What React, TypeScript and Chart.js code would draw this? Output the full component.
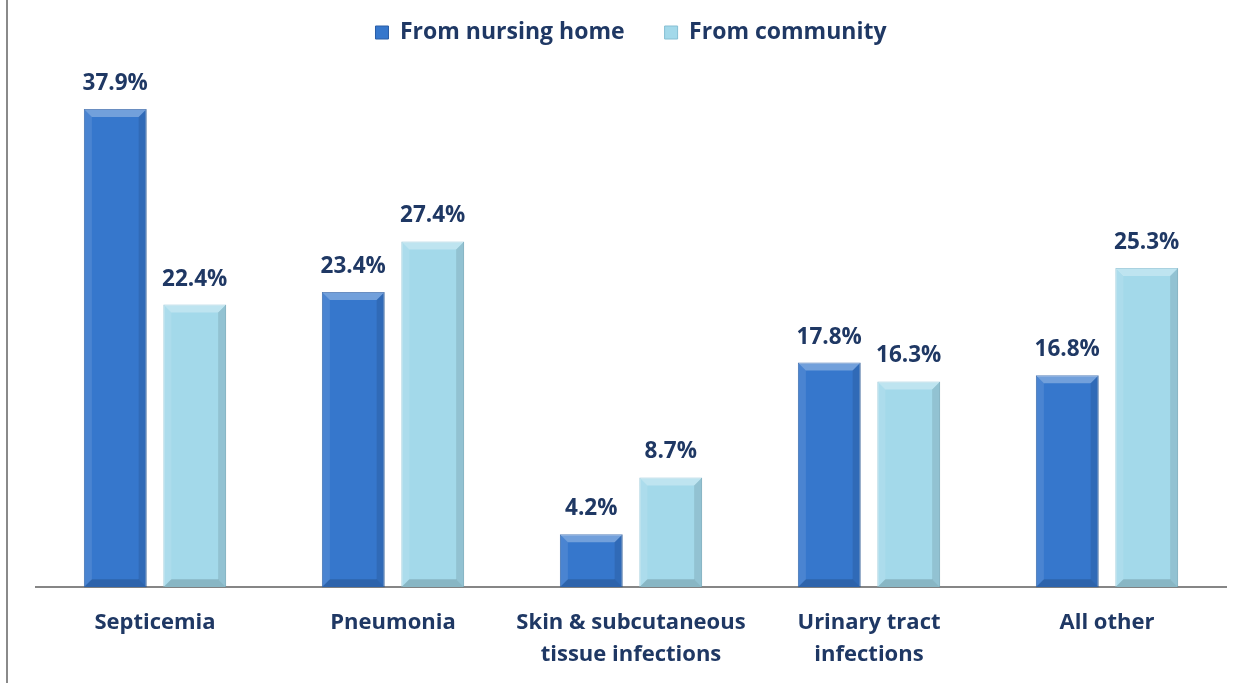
import React, { useEffect, useRef } from "react";
import { Chart, registerables } from "chart.js";

Chart.register(...registerables);

const categories: string[][] = [
  ["Septicemia"],
  ["Pneumonia"],
  ["Skin & subcutaneous", "tissue infections"],
  ["Urinary tract", "infections"],
  ["All other"],
];
const seriesNames = ["From nursing home", "From community"];
const nursingHome = [37.9, 23.4, 4.2, 17.8, 16.8];
const community = [22.4, 27.4, 8.7, 16.3, 25.3];

const NAVY = "#1F3864";
const FONT = "'Open Sans', 'DejaVu Sans', sans-serif";

const bevelPlugin = {
  id: "bevelAndLabels",
  afterDatasetsDraw(chart: any) {
    const ctx = chart.ctx as CanvasRenderingContext2D;
    chart.data.datasets.forEach((ds: any, di: number) => {
      const meta = chart.getDatasetMeta(di);
      meta.data.forEach((bar: any, i: number) => {
        const { x, y, base, width } = bar.getProps(["x", "y", "base", "width"], true);
        const l = x - width / 2;
        const r = x + width / 2;
        const b = Math.min(8, (base - y) / 2);
        ctx.save();
        ctx.fillStyle = "rgba(255,255,255,0.30)";
        ctx.beginPath();
        ctx.moveTo(l, y);
        ctx.lineTo(r, y);
        ctx.lineTo(r - b, y + b);
        ctx.lineTo(l + b, y + b);
        ctx.closePath();
        ctx.fill();
        ctx.fillStyle = "rgba(255,255,255,0.10)";
        ctx.beginPath();
        ctx.moveTo(l, y);
        ctx.lineTo(l + b, y + b);
        ctx.lineTo(l + b, base - b);
        ctx.lineTo(l, base);
        ctx.closePath();
        ctx.fill();
        ctx.fillStyle = "rgba(0,0,0,0.10)";
        ctx.beginPath();
        ctx.moveTo(r, y);
        ctx.lineTo(r - b, y + b);
        ctx.lineTo(r - b, base - b);
        ctx.lineTo(r, base);
        ctx.closePath();
        ctx.fill();
        ctx.fillStyle = "rgba(0,0,0,0.16)";
        ctx.beginPath();
        ctx.moveTo(l, base);
        ctx.lineTo(r, base);
        ctx.lineTo(r - b, base - b);
        ctx.lineTo(l + b, base - b);
        ctx.closePath();
        ctx.fill();
        ctx.fillStyle = NAVY;
        ctx.font = `bold 22.5px ${FONT}`;
        ctx.textAlign = "center";
        ctx.textBaseline = "alphabetic";
        ctx.fillText(ds.data[i].toFixed(1) + "%", x, y - 19);
        ctx.restore();
      });
    });
  },
};

export default function App() {
  const ref = useRef<HTMLCanvasElement | null>(null);
  useEffect(() => {
    document.body.style.margin = "0";
    const chart = new Chart(ref.current!, {
      type: "bar",
      data: {
        labels: categories,
        datasets: [
          {
            label: seriesNames[0],
            data: nursingHome,
            backgroundColor: "#3677CC",
            borderColor: "#2A5EA6",
            borderWidth: 1,
            categoryPercentage: 0.668,
            barPercentage: 0.79,
          },
          {
            label: seriesNames[1],
            data: community,
            backgroundColor: "#A3D9EA",
            borderColor: "#86BFD3",
            borderWidth: 1,
            categoryPercentage: 0.668,
            barPercentage: 0.79,
          },
        ],
      },
      options: {
        animation: false,
        responsive: false,
        layout: { padding: { left: 36, right: 24, top: -19, bottom: 0 } },
        plugins: {
          legend: {
            display: true,
            position: "top",
            labels: {
              boxWidth: 13,
              boxHeight: 13,
              padding: 40,
              color: NAVY,
              font: { family: FONT, size: 23, weight: "bold" },
            },
          },
          tooltip: { enabled: false },
        },
        scales: {
          x: {
            grid: { display: false },
            border: { display: true, color: "#868686", width: 2 },
            ticks: {
              color: NAVY,
              padding: 12,
              maxRotation: 0,
              font: { family: FONT, size: 22, weight: "bold", lineHeight: 1.45 },
            },
          },
          y: {
            display: false,
            min: 0,
            max: 42.25,
          },
        },
      },
      plugins: [bevelPlugin],
    });
    return () => chart.destroy();
  }, []);
  return (
    <div style={{ position: "absolute", left: 0, top: 0, width: 1250, height: 683, background: "#fff" }}>
      <div style={{ position: "absolute", left: 6, top: 0, width: 2, height: 683, background: "#8a8a8a" }} />
      <canvas ref={ref} width={1250} height={683} style={{ display: "block" }} />
    </div>
  );
}
